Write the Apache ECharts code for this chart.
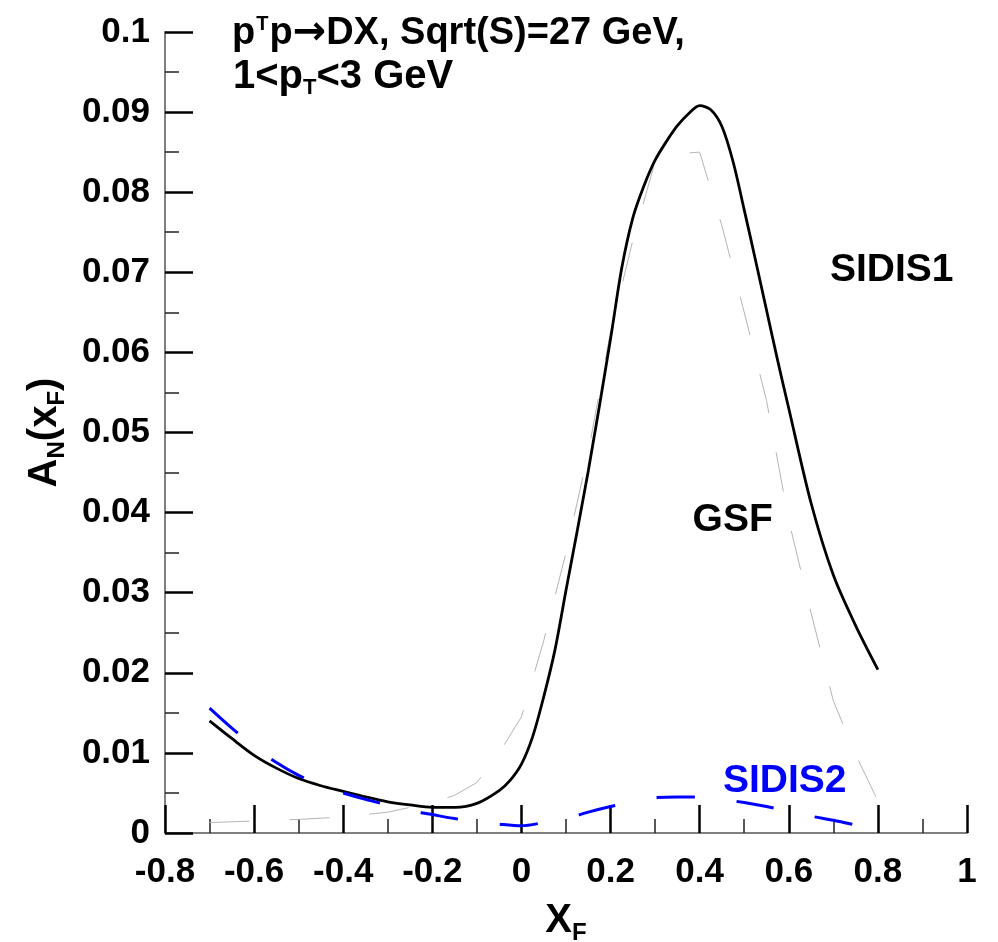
<!DOCTYPE html>
<html><head><meta charset="utf-8">
<script src="https://cdn.jsdelivr.net/npm/echarts@6/dist/echarts.min.js"></script>
<style>html,body{margin:0;padding:0;background:#fff}#c{width:998px;height:942px}</style>
</head><body><div id="c"></div><script>
// ---- data ----
const xfSidis1 = [-0.7,-0.65,-0.6,-0.55,-0.5,-0.45,-0.4,-0.35,-0.3,-0.25,-0.2,-0.15,-0.1,-0.05,-0.025,0,0.025,0.05,0.075,0.1,0.15,0.2,0.225,0.25,0.275,0.3,0.325,0.35,0.375,0.4,0.425,0.45,0.475,0.5,0.525,0.55,0.575,0.6,0.65,0.7,0.75,0.8];
const anSidis1 = [0.0140,0.0118,0.0097,0.0081,0.0068,0.0059,0.0052,0.0045,0.0039,0.0035,0.0032,0.0032,0.0037,0.0053,0.0066,0.0086,0.0120,0.0170,0.0228,0.0303,0.0452,0.0617,0.0705,0.0768,0.0808,0.0840,0.0863,0.0883,0.0898,0.0908,0.0903,0.0882,0.0838,0.0778,0.0716,0.0653,0.0590,0.0530,0.0412,0.0322,0.0259,0.0204];

const xfGsf = [-0.7,-0.6,-0.5,-0.4,-0.3,-0.2,-0.15,-0.1,-0.05,0,0.05,0.1,0.15,0.2,0.25,0.3,0.35,0.4,0.45,0.5,0.55,0.6,0.65,0.7,0.75,0.8];
const anGsf = [0.0013,0.0015,0.0017,0.0020,0.0026,0.0038,0.0047,0.0063,0.0100,0.0145,0.0240,0.0350,0.0475,0.0626,0.0740,0.0838,0.0848,0.0850,0.0758,0.0650,0.0540,0.0390,0.0275,0.0165,0.0098,0.0040];

const xfSidis2 = [-0.7,-0.65,-0.6,-0.55,-0.5,-0.45,-0.4,-0.35,-0.3,-0.25,-0.2,-0.15,-0.1,-0.05,0,0.05,0.1,0.15,0.2,0.25,0.3,0.35,0.4,0.45,0.5,0.55,0.6,0.65,0.7,0.75];
const anSidis2 = [0.0156,0.0131,0.0108,0.0088,0.0072,0.0059,0.0050,0.0042,0.0035,0.0028,0.0023,0.0018,0.0014,0.0011,0.0009,0.0013,0.0018,0.0026,0.0033,0.0039,0.0044,0.0045,0.0045,0.0042,0.0038,0.0033,0.0027,0.0021,0.0016,0.0010];

const xRange = [-0.8, 1], xStep = 0.2;
const yRange = [0, 0.1], yStep = 0.01;

const titleLine1 = ['p', 'T', 'p', '\u2192', 'DX, Sqrt(S)=27 GeV,'];
const titleLine2 = ['1<p', 'T', '<3 GeV'];
const curveLabels = [
  {text: 'SIDIS1', x: 0.831, y: 0.0702, color: '#000'},
  {text: 'GSF', x: 0.474, y: 0.0390, color: '#000'},
  {text: 'SIDIS2', x: 0.591, y: 0.0065, color: '#0000ff'}
];

// ---- chart ----
const FONT = '"Liberation Sans", Arial, Helvetica, sans-serif';
const zip = (a, b) => a.map((v, i) => [v, b[i]]);
const chart = echarts.init(document.getElementById('c'));

const axisCommon = {
  axisLine: {show: true, onZero: false, lineStyle: {color: '#808080', width: 2}},
  axisTick: {show: true, inside: true, length: 28, lineStyle: {color: '#000', width: 2.5}},
  minorTick: {show: true, splitNumber: 2, length: 14, lineStyle: {color: '#222', width: 1.5}},
  splitLine: {show: false},
  axisLabel: {color: '#000', fontFamily: FONT, fontWeight: 'bold', fontSize: 35}
};

chart.setOption({
  animation: false,
  backgroundColor: '#fff',
  grid: {left: 165, right: 31, top: 32, bottom: 109, containLabel: false, outerBoundsMode: 'none'},
  xAxis: Object.assign({}, axisCommon, {
    type: 'value', min: xRange[0], max: xRange[1], interval: xStep,
    axisLabel: Object.assign({}, axisCommon.axisLabel, {margin: 22}),
    name: '{a|X}{b|F}', nameLocation: 'middle', nameGap: 68,
    nameTextStyle: {rich: {
      a: {fontFamily: FONT, fontWeight: 'bold', fontSize: 40, color: '#000'},
      b: {fontFamily: FONT, fontWeight: 'bold', fontSize: 24, color: '#000', verticalAlign: 'bottom', padding: [0, 0, -4, 0]}
    }}
  }),
  yAxis: Object.assign({}, axisCommon, {
    type: 'value', min: yRange[0], max: yRange[1], interval: yStep,
    axisLabel: Object.assign({}, axisCommon.axisLabel, {margin: 15}),
    name: '{a|A}{b|N}{a|(x}{b|F}{a|)}', nameLocation: 'middle', nameGap: 100, nameRotate: 90,
    nameTextStyle: {rich: {
      a: {fontFamily: FONT, fontWeight: 'bold', fontSize: 40, color: '#000'},
      b: {fontFamily: FONT, fontWeight: 'bold', fontSize: 24, color: '#000', verticalAlign: 'bottom', padding: [0, 0, -4, 0]}
    }}
  }),
  series: [
    {type: 'line', name: 'GSF', data: zip(xfGsf, anGsf), showSymbol: false, smooth: false, z: 1, silent: true,
     lineStyle: {color: '#b5b5b5', width: 1, type: [40, 40]}},
    {type: 'line', name: 'SIDIS1', data: zip(xfSidis1, anSidis1), showSymbol: false, smooth: 0.3, z: 2, silent: true,
     lineStyle: {color: '#000', width: 2.8}},
    {type: 'line', name: 'SIDIS2', data: zip(xfSidis2, anSidis2), showSymbol: false, smooth: 0.3, z: 3, silent: true,
     lineStyle: {color: '#0000ff', width: 3, type: [38, 42]}}
  ]
});

const graphics = [];
graphics.push({
  type: 'text', x: 232, y: 34, silent: true,
  style: {
    text: '{a|' + titleLine1[0] + '}{s|' + titleLine1[1] + '}{a|' + titleLine1[2] + '}{r|' + titleLine1[3] + '}{a|' + titleLine1[4] + '}',
    align: 'left', verticalAlign: 'middle',
    rich: {
      a: {fontFamily: FONT, fontWeight: 'bold', fontSize: 38, fill: '#000'},
      r: {fontFamily: '"DejaVu Sans", sans-serif', fontWeight: 'bold', fontSize: 40, fill: '#000'},
      s: {fontFamily: FONT, fontWeight: 'bold', fontSize: 20, fill: '#000', verticalAlign: 'top', padding: [0, 1, 0, 1]}
    }
  }
});
graphics.push({
  type: 'text', x: 233, y: 77, silent: true,
  style: {
    text: '{a|' + titleLine2[0] + '}{b|' + titleLine2[1] + '}{a|' + titleLine2[2] + '}',
    align: 'left', verticalAlign: 'middle',
    rich: {
      a: {fontFamily: FONT, fontWeight: 'bold', fontSize: 40, fill: '#000'},
      b: {fontFamily: FONT, fontWeight: 'bold', fontSize: 22, fill: '#000', verticalAlign: 'bottom', padding: [0, 0, -2, 0]}
    }
  }
});
curveLabels.forEach(l => {
  const p = chart.convertToPixel({gridIndex: 0}, [l.x, l.y]);
  graphics.push({
    type: 'text', x: p[0], y: p[1], silent: true,
    style: {text: l.text, align: 'center', verticalAlign: 'middle',
      fontFamily: FONT, fontWeight: 'bold', fontSize: 39, fill: l.color}
  });
});
chart.setOption({graphic: graphics});
</script></body></html>
